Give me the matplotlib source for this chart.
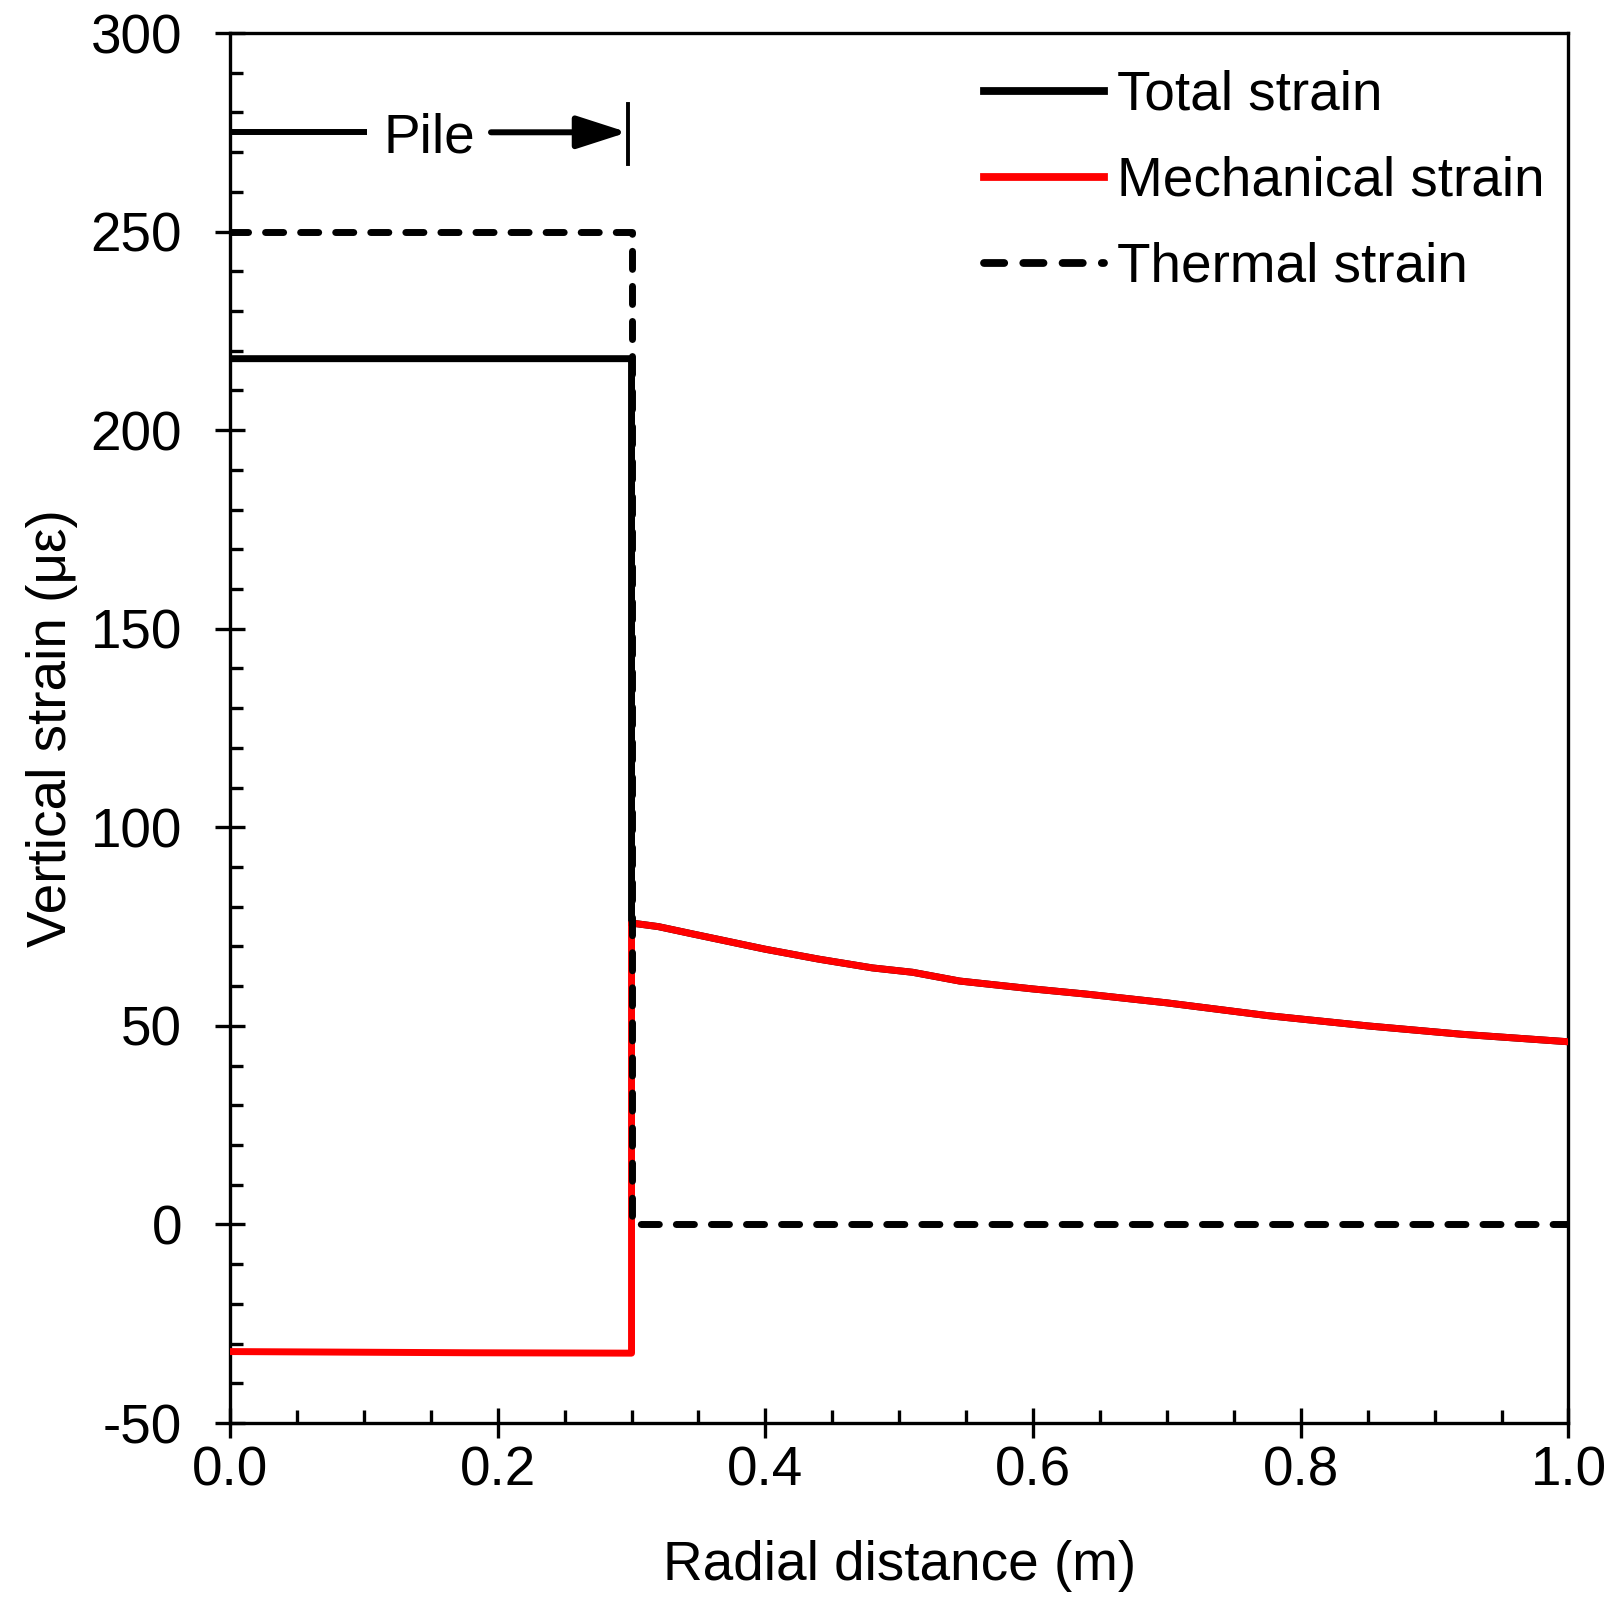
#!/usr/bin/env python3
"""
Vertical strain across the pile / soil section at a given depth.
Total, mechanical and thermal strain vs radial distance.
"""

import numpy as np
import matplotlib
matplotlib.use('Agg')
import matplotlib.pyplot as plt
from matplotlib.ticker import MultipleLocator

# ---- data ----
pile_radius = 0.3  # m

# thermal strain (micro strain)
thermal_r = [0.0, 0.3, 0.3, 1.0]
thermal_eps = [250, 250, 0, 0]

# mechanical strain inside pile and in the soil
mech_r = [0.0, 0.18, 0.3, 0.3, 0.32, 0.345, 0.40, 0.44, 0.48, 0.51,
          0.545, 0.60, 0.64, 0.70, 0.775, 0.85, 0.92, 1.0]
mech_eps = [-32.0, -32.3, -32.4, 75.9, 75.0, 73.2, 69.3, 66.8, 64.6, 63.5,
            61.3, 59.3, 58.0, 55.8, 52.6, 50.0, 47.9, 46.0]

# total strain
total_r = [0.0, 0.3, 0.3, 0.32, 0.345, 0.40, 0.44, 0.48, 0.51,
           0.545, 0.60, 0.64, 0.70, 0.775, 0.85, 0.92, 1.0]
total_eps = [218, 218, 75.9, 75.0, 73.2, 69.3, 66.8, 64.6, 63.5,
             61.3, 59.3, 58.0, 55.8, 52.6, 50.0, 47.9, 46.0]

x_ticks = [0.0, 0.2, 0.4, 0.6, 0.8, 1.0]
y_ticks = [-50, 0, 50, 100, 150, 200, 250, 300]

plt.rcParams['font.family'] = ['Liberation Sans', 'DejaVu Sans']
plt.rcParams['axes.unicode_minus'] = False

FS = 39.5
LW = 5.0

fig = plt.figure(figsize=(16.15, 16.02), dpi=100)
ax = fig.add_axes([0.1424, 0.1117, 0.8288, 0.8677])

ax.plot(total_r, total_eps, color='black', lw=LW, solid_joinstyle='miter',
        label='Total strain', zorder=3)
ax.plot(mech_r, mech_eps, color='red', lw=LW, solid_joinstyle='round',
        label='Mechanical strain', zorder=4)
ax.plot(thermal_r, thermal_eps, color='black', lw=LW, linestyle=(0, (2.6, 2.45)),
        dash_capstyle='round', label='Thermal strain', zorder=5)

# "Pile" annotation
ax.plot([0.0, 0.102], [275, 275], color='black', lw=4.3, solid_capstyle='butt')
ax.annotate('', xy=(0.297, 275), xytext=(0.195, 275),
            arrowprops=dict(arrowstyle='-|>,head_length=3.1,head_width=1.0',
                            color='black', lw=4.3, shrinkA=0, shrinkB=0))
ax.plot([0.297, 0.297], [267, 282], color='black', lw=2.8)
ax.text(0.149, 275, 'Pile', fontsize=FS, ha='center', va='center_baseline')

ax.set_xlim(0, 1.0)
ax.set_ylim(-50, 300)
ax.set_xticks(x_ticks)
ax.set_xticklabels([f'{v:.1f}' for v in x_ticks])
ax.set_yticks(y_ticks)
ax.set_yticklabels([str(v) for v in y_ticks])
ax.xaxis.set_minor_locator(MultipleLocator(0.05))
ax.yaxis.set_minor_locator(MultipleLocator(10))

for s in ax.spines.values():
    s.set_linewidth(2.4)
ax.tick_params(which='major', direction='inout', length=21, width=2.4,
               labelsize=FS)
ax.tick_params(which='minor', direction='in', length=9.5, width=2.4)
ax.tick_params(axis='y', which='major', pad=24)
ax.tick_params(axis='x', which='major', pad=6)

ax.set_xlabel('Radial distance (m)', fontsize=FS, labelpad=30)
ax.set_ylabel('Vertical strain (με)', fontsize=FS, labelpad=9)

leg = ax.legend(loc='upper left', bbox_to_anchor=(0.563, 0.9735), frameon=False,
                fontsize=FS, handlelength=2.19, handletextpad=0.25,
                labelspacing=0.62, borderpad=0, borderaxespad=0)
for h in leg.get_lines():
    h.set_linewidth(5.6)

fig.savefig('out.png', dpi=100)
print("Chart saved as 'out.png'")
